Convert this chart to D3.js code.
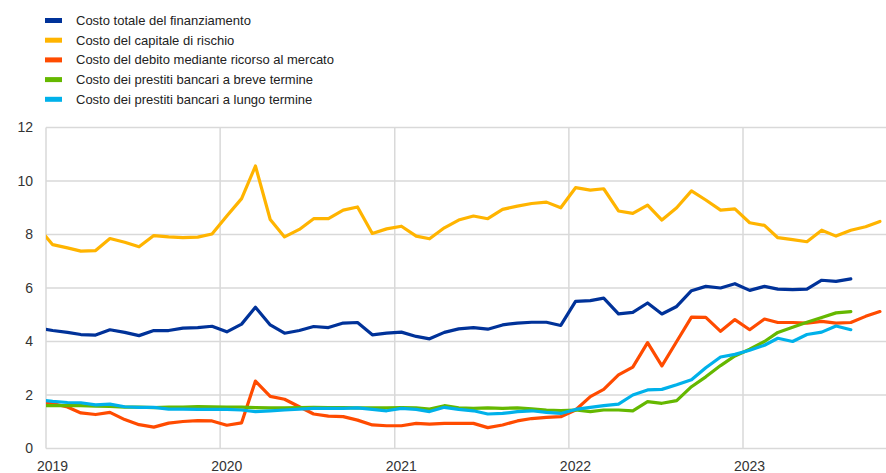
<!DOCTYPE html>
<html>
<head>
<meta charset="utf-8">
<script src="https://cdn.jsdelivr.net/npm/d3@7"></script>
<style>
  html, body { margin: 0; padding: 0; background: #fff; }
  svg { display: block; }
  text { font-family: "Liberation Sans", Arial, sans-serif; }
</style>
</head>
<body>
<svg id="chart" width="886" height="473"></svg>
<script>
// Monthly observations, first point = Dec 2018
const startMonth = "2018-12-15";
const seriesNames = [
  "Costo totale del finanziamento",
  "Costo del capitale di rischio",
  "Costo del debito mediante ricorso al mercato",
  "Costo dei prestiti bancari a breve termine",
  "Costo dei prestiti bancari a lungo termine"
];
const seriesColors = ["#003299", "#FFB400", "#FF4B00", "#65B800", "#00B1EA"];

const totalCost = [4.5,
  4.41,4.34,4.26,4.24,4.44,4.34,4.22,4.41,4.41,4.5,4.52,4.57,
  4.36,4.65,5.28,4.62,4.31,4.41,4.56,4.52,4.69,4.71,4.25,4.31,
  4.35,4.19,4.1,4.34,4.47,4.52,4.46,4.62,4.69,4.72,4.72,4.6,
  5.5,5.53,5.62,5.03,5.09,5.44,5.03,5.31,5.9,6.06,6.0,6.16,
  5.91,6.06,5.96,5.94,5.96,6.29,6.25,6.34];
const equityCost = [8.28,
  7.62,7.5,7.38,7.4,7.85,7.71,7.54,7.96,7.91,7.88,7.9,8.02,
  8.69,9.34,10.56,8.56,7.91,8.19,8.59,8.59,8.91,9.03,8.04,8.21,
  8.31,7.94,7.84,8.25,8.54,8.69,8.59,8.94,9.06,9.16,9.21,9.0,
  9.75,9.66,9.71,8.88,8.79,9.1,8.54,9.0,9.63,9.29,8.91,8.96,
  8.44,8.34,7.88,7.81,7.73,8.16,7.94,8.16,8.29,8.49];
const marketDebtCost = [1.78,
  1.68,1.55,1.33,1.27,1.35,1.08,0.89,0.8,0.95,1.01,1.04,1.03,
  0.87,0.96,2.52,1.95,1.84,1.56,1.29,1.21,1.19,1.06,0.88,0.85,
  0.85,0.94,0.91,0.94,0.94,0.94,0.78,0.88,1.03,1.12,1.16,1.19,
  1.44,1.94,2.21,2.75,3.04,3.96,3.09,4.0,4.91,4.9,4.38,4.82,
  4.44,4.84,4.71,4.71,4.69,4.75,4.69,4.71,4.94,5.12];
const shortLoanCost = [1.6,
  1.6,1.6,1.6,1.58,1.57,1.55,1.55,1.53,1.55,1.55,1.57,1.56,
  1.55,1.55,1.53,1.52,1.52,1.53,1.54,1.53,1.53,1.52,1.52,1.52,
  1.53,1.52,1.47,1.6,1.52,1.5,1.52,1.5,1.52,1.48,1.44,1.42,
  1.44,1.38,1.44,1.44,1.41,1.75,1.69,1.79,2.31,2.68,3.1,3.46,
  3.71,4.0,4.34,4.53,4.72,4.9,5.07,5.12];
const longLoanCost = [1.82,
  1.76,1.72,1.71,1.63,1.66,1.56,1.54,1.54,1.47,1.47,1.46,1.46,
  1.46,1.44,1.38,1.41,1.44,1.47,1.5,1.5,1.5,1.52,1.46,1.41,
  1.5,1.46,1.38,1.54,1.46,1.41,1.29,1.31,1.38,1.41,1.35,1.31,
  1.46,1.54,1.6,1.66,2.0,2.19,2.21,2.38,2.57,3.02,3.42,3.52,
  3.67,3.86,4.12,4.0,4.26,4.35,4.58,4.44];

const yTicks = [0, 2, 4, 6, 8, 10, 12];
const xTickYears = ["2019", "2020", "2021", "2022", "2023"];

const allSeries = [totalCost, equityCost, marketDebtCost, shortLoanCost, longLoanCost];

const svg = d3.select("#chart");
const plot = { left: 46, right: 886, top: 127.5, bottom: 448.5 };

const parse = d3.timeParse("%Y-%m-%d");
const start = parse(startMonth);
const maxLen = d3.max(allSeries, s => s.length);
const months = d3.timeMonth.range(d3.timeMonth.floor(start), d3.timeMonth.offset(d3.timeMonth.floor(start), maxLen))
  .map(d => d3.timeDay.offset(d, 14));

const x = d3.scaleTime()
  .domain([new Date(2019, 0, 1), new Date(2023, 0, 1)])
  .range([plot.left, 743]);
const y = d3.scaleLinear().domain([0, 12]).range([plot.bottom, plot.top]);

// clip
svg.append("defs").append("clipPath").attr("id", "clip")
  .append("rect").attr("x", plot.left).attr("y", plot.top - 5)
  .attr("width", plot.right - plot.left).attr("height", plot.bottom - plot.top + 10);

// horizontal grid
svg.append("g").selectAll("line").data(yTicks).join("line")
  .attr("x1", plot.left).attr("x2", plot.right)
  .attr("y1", d => y(d)).attr("y2", d => y(d))
  .attr("stroke", "#d9d9d9").attr("stroke-width", 1.5);

// vertical grid
const yearDates = xTickYears.map(s => new Date(+s, 0, 1));
svg.append("g").selectAll("line").data(yearDates).join("line")
  .attr("x1", d => x(d)).attr("x2", d => x(d))
  .attr("y1", plot.top).attr("y2", plot.bottom)
  .attr("stroke", "#d9d9d9").attr("stroke-width", 1.5);

// y labels
svg.append("g").selectAll("text").data(yTicks).join("text")
  .attr("x", 33).attr("y", d => y(d)).attr("dy", "0.35em")
  .attr("text-anchor", "end").attr("font-size", 14).attr("fill", "#333")
  .text(d => d);

// x labels
svg.append("g").selectAll("text").data(yearDates).join("text")
  .attr("x", d => x(d) - 9).attr("y", 471)
  .attr("text-anchor", "start").attr("font-size", 14).attr("fill", "#333")
  .text((d, i) => xTickYears[i]);

// lines
const line = d3.line().x((d, i) => x(months[i])).y(d => y(d));
svg.append("g").attr("clip-path", "url(#clip)").selectAll("path").data(allSeries).join("path")
  .attr("d", line)
  .attr("fill", "none")
  .attr("stroke", (d, i) => seriesColors[i])
  .attr("stroke-width", 3.2)
  .attr("stroke-linejoin", "round")
  .attr("stroke-linecap", "round");

// legend
const lg = svg.append("g").selectAll("g").data(seriesNames).join("g")
  .attr("transform", (d, i) => `translate(45, ${20.5 + i * 19.7})`);
lg.append("rect").attr("x", 0).attr("y", -2.5).attr("width", 17).attr("height", 5)
  .attr("fill", (d, i) => seriesColors[i]);
lg.append("text").attr("x", 31).attr("y", 0).attr("dy", "0.35em")
  .attr("font-size", 13).attr("fill", "#222").text(d => d);
</script>
</body>
</html>
